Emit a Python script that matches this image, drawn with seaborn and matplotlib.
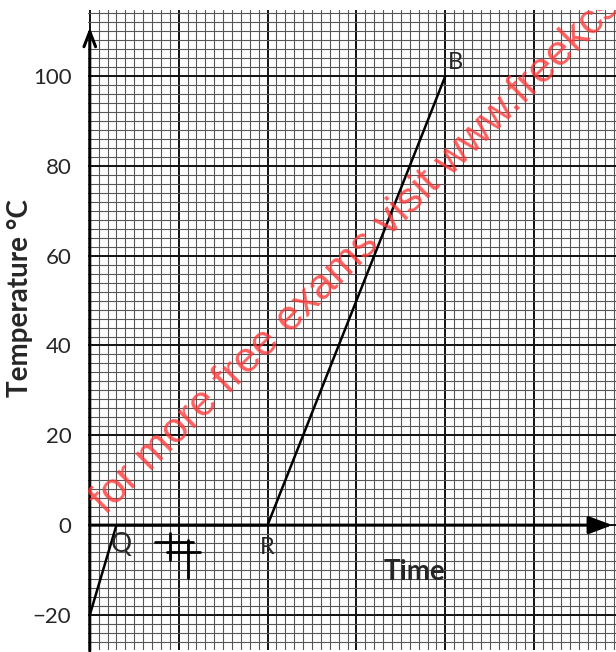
import numpy as np
import pandas as pd
import matplotlib
matplotlib.use("Agg")
import matplotlib.pyplot as plt
import seaborn as sns

# heating curve (time in small squares)
time = [0, 3, 20, 40]
temperature = [-20, 0, 0, 100]
point_names = ["Q", "R", "B"]
point_time = [3.6, 20.0, 41.1]
point_temp = [-4.4, -5.0, 103.0]
y_ticks = [-20, 0, 20, 40, 60, 80, 100]
y_tick_labels = ["\u221220", "0", "20", "40", "60", "80", "100"]

# the little hand drawn cross-hatch below the axis
hash_x = [[7.3, 11.6], [8.7, 12.4], [9.0, 9.0], [11.0, 11.0]]
hash_y = [[-3.8, -3.8], [-6.0, -6.0], [-1.8, -7.8], [-3.3, -11.8]]

watermark = "for more free exams visit www.freekcsepastpapers.com"

df = pd.DataFrame({"Time": time, "Temperature": temperature})

sns.set_theme(style="white")
plt.rcParams["font.family"] = ["Lato", "DejaVu Sans"]

fig = plt.figure(figsize=(6.16, 6.52), dpi=100)
ax = fig.add_axes([88 / 616, 2 / 652, 1 - 88 / 616, 640 / 652])
ax.set_xlim(-0.2, 59.2)
ax.set_ylim(-27.8, 114.7)

# graph paper
ax.set_xticks(np.arange(0, 60, 10))
ax.set_xticks(np.arange(0, 60, 1), minor=True)
ax.set_yticks(y_ticks)
ax.set_yticks(np.arange(-26, 115, 2), minor=True)
ax.grid(which="minor", color="#555555", linewidth=0.8)
ax.grid(which="major", color="#111111", linewidth=1.4)
ax.set_axisbelow(True)
ax.set_yticklabels(y_tick_labels, fontsize=16)
ax.set_xticklabels([])
ax.tick_params(axis="both", which="both", length=0, pad=12)
for s in ax.spines.values():
    s.set_visible(False)

# axes with arrows
ax.annotate("", xy=(58.8, 0), xytext=(0, 0),
            arrowprops=dict(arrowstyle="-|>,head_length=1.2,head_width=0.45",
                            color="black", lw=2.2, shrinkA=0, shrinkB=0))
ax.annotate("", xy=(0, 110.8), xytext=(0, -28),
            arrowprops=dict(arrowstyle="->,head_length=0.9,head_width=0.35",
                            color="black", lw=2.2, shrinkA=0, shrinkB=0),
            annotation_clip=False)

sns.lineplot(data=df, x="Time", y="Temperature", ax=ax, color="black",
             linewidth=1.8, sort=False)

for name, px, py in zip(point_names, point_time, point_temp):
    ax.text(px, py, name, fontsize=19 if name == "Q" else 17,
            ha="center", va="center")

for hx, hy in zip(hash_x, hash_y):
    ax.plot(hx, hy, color="black", linewidth=2)

ax.text(36.5, -10.5, "Time", fontsize=20, fontweight="bold",
        ha="center", va="center")
ax.set_xlabel("")
ax.set_ylabel("Temperature \u00b0C", fontsize=20, fontweight="bold")
ax.yaxis.set_label_coords(-0.104, 0.55)

ax.text(1.8, 2.2, watermark, fontsize=31, color="#ff3838", alpha=0.8,
        rotation=44.5, rotation_mode="anchor", ha="left", va="baseline",
        family=["Liberation Sans", "DejaVu Sans"], clip_on=True)

fig.savefig("out.png", dpi=100, facecolor="white")
